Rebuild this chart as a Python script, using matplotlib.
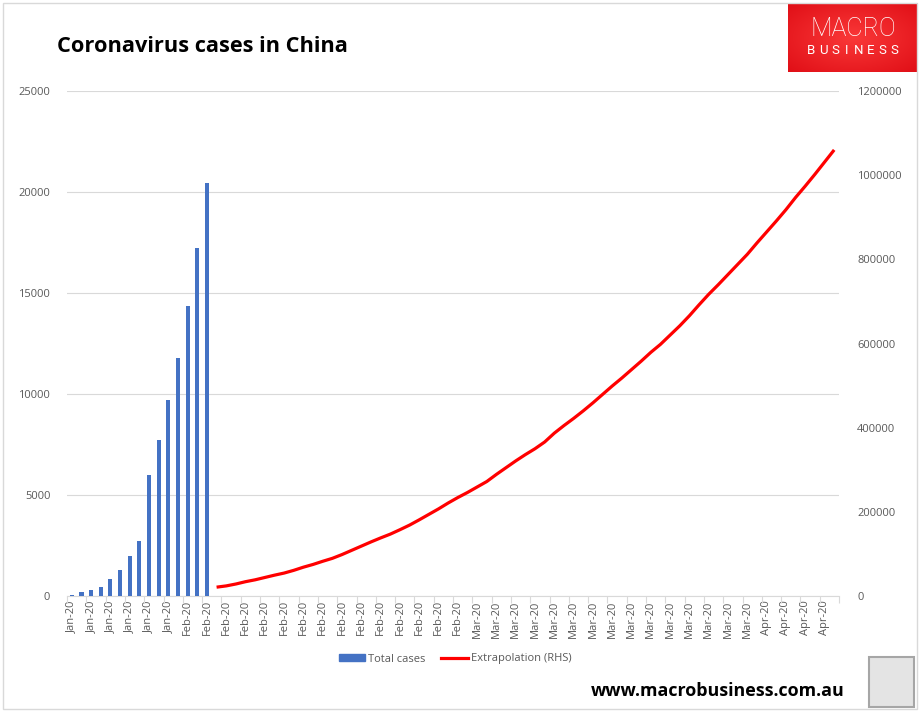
import numpy as np
import matplotlib
matplotlib.use("Agg")
import matplotlib.pyplot as plt
from matplotlib.patches import Rectangle
from matplotlib.lines import Line2D

plt.rcParams['font.family'] = ['Open Sans', 'DejaVu Sans']

# category labels (one label every second day)
tick_labels = ["Jan-20"] * 6 + ["Feb-20"] * 15 + ["Mar-20"] * 15 + ["Apr-20"] * 4
n_days = 80

# total cases (bars, left axis)
total_cases = [62, 198, 291, 440, 830, 1287, 1975, 2744, 5974, 7711,
               9692, 11791, 14380, 17205, 20438]

# extrapolation (line, right axis), starts on day 15
extrap_start = 15
extrapolation = [21000, 24000, 28500, 34000, 38500, 44000, 49500, 54500, 61000, 68500,
                 75000, 82500, 89500, 98500, 108500, 118500, 128500, 138000, 147000, 157500,
                 168500, 181000, 194000, 207000, 221000, 234000, 246000, 259000, 272000, 289000,
                 305000, 321000, 336000, 350000, 366000, 387000, 405000, 422000, 440000, 459000,
                 479000, 499000, 518000, 538000, 558000, 579000, 598000, 620000, 642000, 666000,
                 692000, 717000, 740000, 764000, 788000, 812000, 839000, 865000, 891000, 918000,
                 947000, 974000, 1002000, 1031000, 1060000]

W, H = 919, 711
fig = plt.figure(figsize=(W / 100, H / 100), dpi=100)

def fx(px):
    return px / W

def fy(py):
    return 1 - py / H

ax = fig.add_axes([fx(67), fy(596), fx(839) - fx(67), fy(91) - fy(596)])
ax2 = ax.twinx()

grey = "#595959"
grid = "#d9d9d9"

ax.bar(np.arange(len(total_cases)), total_cases, width=0.42, color="#4472C4", zorder=3)
xl = np.arange(extrap_start, extrap_start + len(extrapolation))
ax2.plot(xl, extrapolation, color="#ff0000", lw=2.3, solid_capstyle="butt", zorder=4)

ax.set_xlim(-0.5, n_days - 0.5)
ax.set_ylim(0, 25000)
ax.set_yticks(np.arange(0, 25001, 5000))
ax2.set_ylim(0, 1200000)
ax2.set_yticks(np.arange(0, 1200001, 200000))
ax2.set_yticklabels([str(v) for v in range(0, 1200001, 200000)])

ax.set_xticks(np.arange(0, n_days, 2))
ax.set_xticklabels(tick_labels, rotation=90, fontsize=8, color=grey)
ax.set_xticks(np.arange(-0.5, n_days, 2), minor=True)
ax.tick_params(axis="x", which="major", length=0, pad=3)
ax.tick_params(axis="x", which="minor", length=5, color=grid, width=0.8)
ax.tick_params(axis="y", length=0, pad=12, labelsize=8, labelcolor=grey)
ax2.tick_params(axis="y", length=0, pad=13, labelsize=8, labelcolor=grey)

ax.grid(axis="y", color=grid, lw=0.8, zorder=0)
ax.set_axisbelow(True)
for a in (ax, ax2):
    for s in ("top", "left", "right"):
        a.spines[s].set_visible(False)
    a.spines["bottom"].set_color(grid)
    a.spines["bottom"].set_linewidth(0.8)
ax2.spines["bottom"].set_visible(False)
ax.set_zorder(ax2.get_zorder() - 1)
ax.patch.set_visible(False)

# title
fig.text(fx(57), fy(46), "Coronavirus cases in China", fontsize=15.7, fontweight="bold",
         ha="left", va="center", color="black")

# legend
handles = [Rectangle((0, 0), 1, 1, color="#4472C4"),
           Line2D([0], [0], color="#ff0000", lw=2.3)]
fig.legend(handles, ["Total cases", "Extrapolation (RHS)"], loc="center",
           bbox_to_anchor=(fx(455), fy(659)), ncol=2, frameon=False, fontsize=8,
           handlelength=2.4, handleheight=0.55, handletextpad=0.25, columnspacing=1.4,
           labelcolor=grey)

# footer
fig.text(fx(845), fy(691), "www.macrobusiness.com.au", fontsize=12.9, fontweight="bold",
         ha="right", va="center", color="black")

# outer frame
fig.add_artist(Rectangle((fx(2.5), fy(708.5)), fx(917) - fx(2.5), fy(2.5) - fy(708.5),
                         transform=fig.transFigure, fill=False, edgecolor=grid, lw=1))

# MACRO BUSINESS logo
lax = fig.add_axes([fx(788), fy(72), fx(918) - fx(788), fy(3) - fy(72)])
gx, gy = np.meshgrid(np.linspace(-1, 1, 130), np.linspace(-1, 1, 69))
r = np.clip(np.sqrt(gx ** 2 + gy ** 2) / 1.4, 0, 1)
c0 = np.array([0.98, 0.22, 0.22])
c1 = np.array([0.88, 0.06, 0.09])
img = c0[None, None, :] * (1 - r[..., None]) + c1[None, None, :] * r[..., None]
lax.imshow(img, aspect="auto", extent=(0, 1, 0, 1))
lax.set_xlim(0, 1)
lax.set_ylim(0, 1)
lax.axis("off")
lax.text(0.5, 0.62, "MACRO", fontsize=18, color="white", ha="center", va="center",
         family=["Roboto", "DejaVu Sans"], fontweight="light")
for i, ch in enumerate("BUSINESS"):
    lax.text(0.18 + i * 0.0914, 0.305, ch, fontsize=9.5, color="white", ha="center",
             va="center", family=["Roboto", "DejaVu Sans"])

# fox badge
fig.add_artist(Rectangle((fx(869), fy(707)), fx(914) - fx(869), fy(657) - fy(707),
                         transform=fig.transFigure, facecolor="#e4e4e4",
                         edgecolor="#a6a6a6", lw=1.5))

fig.savefig("out.png", dpi=100)
